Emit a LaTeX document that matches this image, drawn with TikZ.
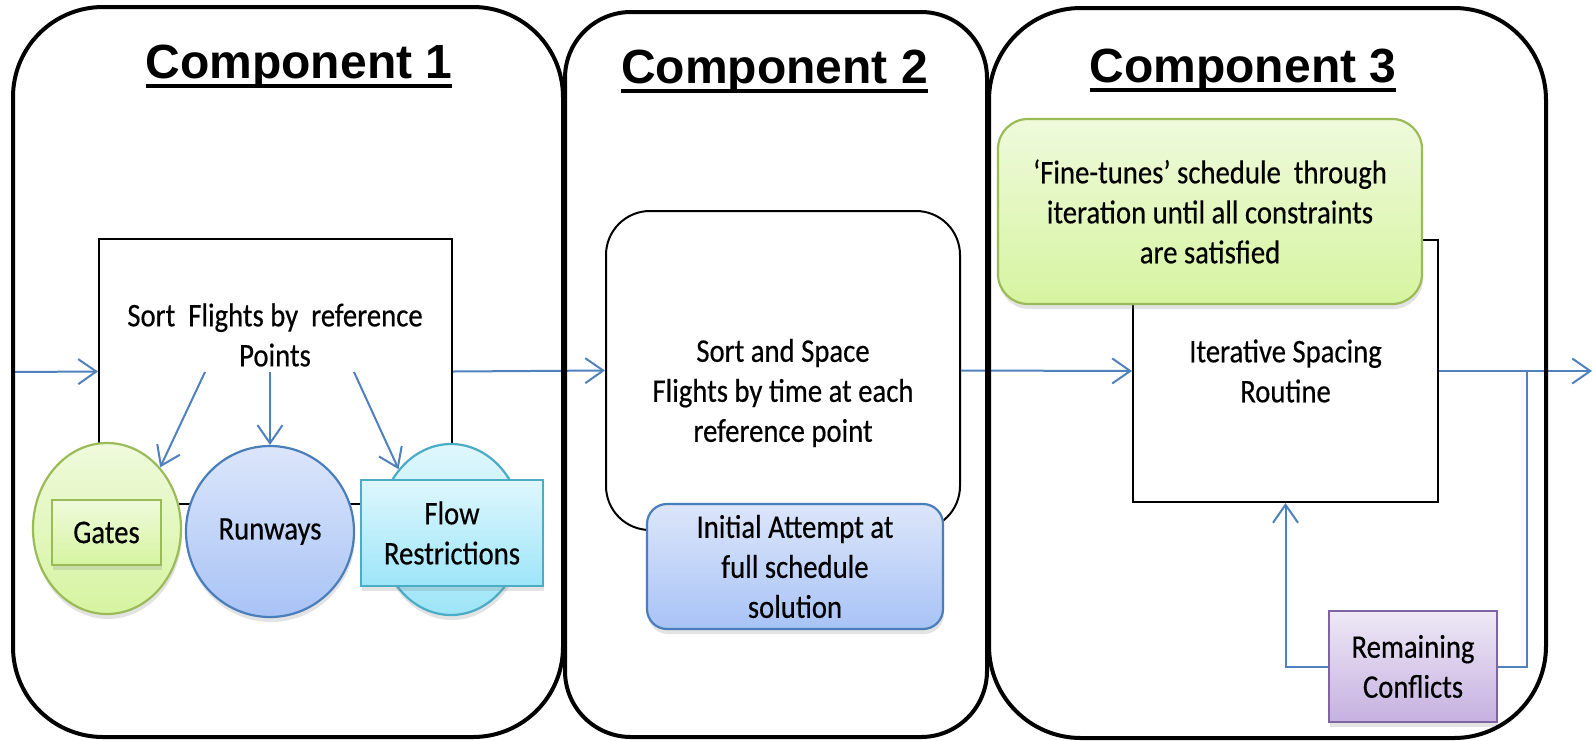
\documentclass[tikz,border=0pt]{standalone}
\usepackage{fontspec}
\setmainfont{Carlito}[FakeStretch=0.87,FakeBold=0.4]
\newfontfamily\titlefont{Liberation Sans}
\usetikzlibrary{arrows.meta,shapes.geometric,shadows}
\definecolor{connblue}{HTML}{4F81BD}
\definecolor{gtop}{HTML}{EFFADC}
\definecolor{gbot}{HTML}{D6F4A0}
\definecolor{gbrd}{HTML}{9BBB59}
\definecolor{btop}{HTML}{DCE6FA}
\definecolor{bbot}{HTML}{A8C3F6}
\definecolor{bbrd}{HTML}{4A7EBB}
\definecolor{ctop}{HTML}{DFF7FD}
\definecolor{cbot}{HTML}{9DE5F8}
\definecolor{cbrd}{HTML}{4BACC6}
\definecolor{ptop}{HTML}{EEE8F6}
\definecolor{pbot}{HTML}{C6B1E0}
\definecolor{pbrd}{HTML}{8064A2}
\newcommand\ttltext[1]{\setbox0\hbox{#1}\rlap{\rule[-10pt]{\wd0}{4.5pt}}\box0}
\tikzset{
  panelbox/.style={draw=black, line width=4pt, rounded corners=#1, inner sep=0pt},
  plainbox/.style={draw=black, line width=2pt, fill=white, inner sep=0pt,
    font=\fontsize{33pt}{40pt}\selectfont},
  ttl/.style={font=\titlefont\bfseries\fontsize{48pt}{58pt}\selectfont, inner sep=0pt},
  body/.style={font=\fontsize{33pt}{40pt}\selectfont, inner sep=0pt, align=center},
  softshadow/.style={drop shadow={opacity=0.22, shadow xshift=1pt, shadow yshift=-5pt}},
  shapebase/.style={line width=2.2pt, inner sep=0pt, align=center, softshadow,
    font=\fontsize{33pt}{40pt}\selectfont},
  greenshape/.style={shapebase, draw=gbrd, top color=gtop, bottom color=gbot},
  blueshape/.style={shapebase, draw=bbrd, top color=btop, bottom color=bbot},
  cyanshape/.style={shapebase, draw=cbrd, top color=ctop, bottom color=cbot},
  purpleshape/.style={shapebase, draw=pbrd, top color=ptop, bottom color=pbot},
  connline/.style={draw=connblue, line width=2pt},
  conn/.style={connline, -{Straight Barb[length=18pt,width=25pt]}},
}
\begin{document}
\begin{tikzpicture}[x=1pt,y=-1pt]
\useasboundingbox (0,0) rectangle (1593,740);

% titles
\node[ttl, anchor=base] (t1) at (299,78) {\ttltext{Component 1}};
\node[ttl, anchor=base] (t2) at (774.5,83) {\ttltext{Component 2}};
\node[ttl, anchor=base] (t3) at (1243,82) {\ttltext{Component 3}};

% component 1
\node[plainbox, minimum width=353pt, minimum height=265pt] (b1) at (275.5,371.5) {};
\node[body] (b1t) at (275,335) {Sort\ \ Flights by\ \ reference\\Points};
\node[ellipse, greenshape, minimum width=148pt, minimum height=171pt] (gatesell) at (107,528.5) {};
\node[greenshape, minimum width=109pt, minimum height=65pt] (gates) at (106.5,532.5) {Gates};
\node[ellipse, blueshape, minimum width=168pt, minimum height=171pt] (runways) at (270,531.5) {Runways};
\node[ellipse, cyanshape, minimum width=144pt, minimum height=171pt] (flowell) at (451,529.5) {};
\node[cyanshape, minimum width=182pt, minimum height=106pt] (flow) at (452,533) {Flow\\Restrictions};

\coordinate (a1) at (205,372);
\coordinate (a2) at (270,372);
\coordinate (a3) at (354,372);
\draw[conn] (a1) -- (gatesell.49);
\draw[conn] (a2) -- (runways.north);
\draw[conn] (a3) -- (flowell.131);

% component 2
\node[plainbox, rounded corners=44pt, minimum width=354pt, minimum height=319pt] (b2) at (783,370.5) {};
\node[body] (b2t) at (783,393) {Sort and Space\\Flights by time at each\\reference point};
\node[blueshape, rounded corners=20pt, minimum width=296pt, minimum height=125pt] (init) at (795,566.5) {Initial Attempt at\\full schedule\\solution};

% component 3
\node[plainbox, minimum width=305pt, minimum height=262pt, align=center] (b3) at (1285.5,371) {Iterative Spacing\\Routine};
\node[greenshape, rounded corners=30pt, minimum width=424pt, minimum height=185pt] (fine) at (1210,211.5) {‘Fine-tunes’ schedule\ \ through\\iteration until all constraints\\are satisfied};
\node[purpleshape, minimum width=168pt, minimum height=111pt] (rc) at (1413,666.5) {Remaining\\Conflicts};

% connectors
\coordinate (in) at (13,372);
\coordinate (out) at (1592,371);
\coordinate (br) at (1527,371);
\draw[conn] (in) -- (b1.west);
\draw[conn] (b1.east) -- (b2.west);
\draw[conn] (b2.east) -- (b3.west);
\draw[conn] (b3.east) -- (out);
\draw[connline] (br) |- (rc.east);
\draw[conn] (rc.west) -| (b3.south);

% panels
\node[panelbox=90pt, minimum width=550pt, minimum height=730pt] (p1) at (288,372) {};
\node[panelbox=66pt, minimum width=422pt, minimum height=725pt] (p2) at (776,374.5) {};
\node[panelbox=92pt, minimum width=557pt, minimum height=730pt] (p3) at (1267.5,373) {};
\end{tikzpicture}
\end{document}
